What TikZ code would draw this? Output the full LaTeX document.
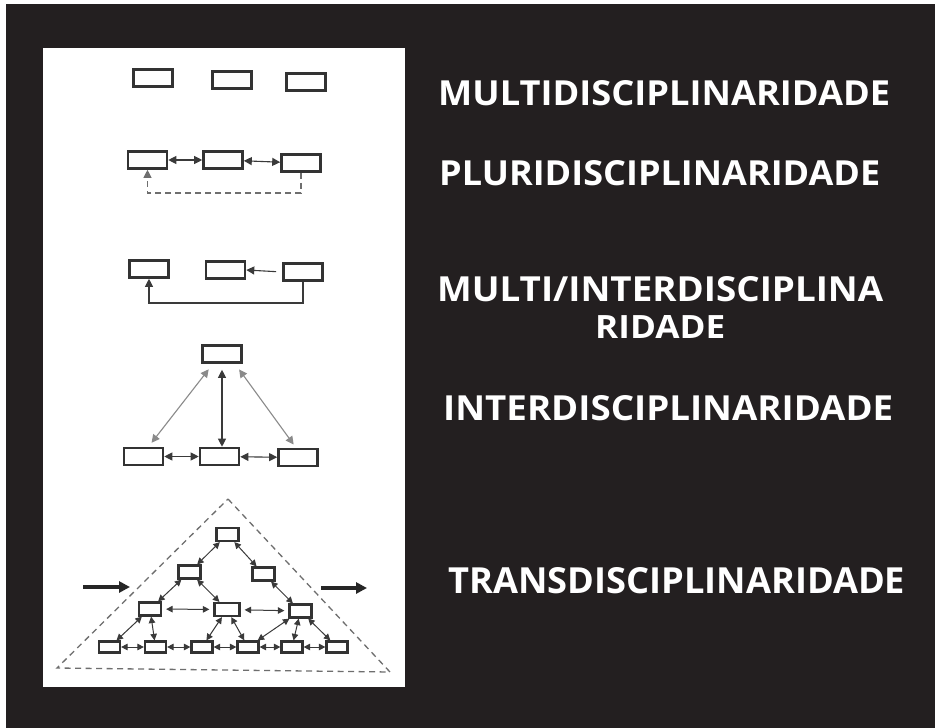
\documentclass[tikz,border=0pt]{standalone}
\usepackage{fontspec}
\setmainfont{Open Sans}
\usetikzlibrary{arrows.meta,calc}
\definecolor{bgdark}{HTML}{231F20}
\definecolor{boxc}{HTML}{333333}
\definecolor{linec}{HTML}{3A3A3A}
\definecolor{lightc}{HTML}{8A8A8A}
\definecolor{dashc}{HTML}{6E6E6E}
\tikzset{
  bigbox/.style={draw=boxc, line width=2.6pt, fill=white, minimum width=39pt, minimum height=17pt, inner sep=0pt},
  smbox/.style={draw=boxc, line width=2.2pt, fill=white, minimum width=22pt, minimum height=13pt, inner sep=0pt},
  tinybox/.style={draw=boxc, line width=2.2pt, fill=white, minimum width=21pt, minimum height=11pt, inner sep=0pt},
  dbl/.style={{Triangle[length=8pt,width=8pt]}-{Triangle[length=8pt,width=8pt]}, line width=1.1pt, draw=linec},
  sgl/.style={-{Triangle[length=8pt,width=8pt]}, line width=1.1pt, draw=linec},
  sdbl/.style={{Triangle[length=6.5pt,width=6.5pt]}-{Triangle[length=6.5pt,width=6.5pt]}, line width=1pt, draw=linec},
  lbl/.style={text=white, anchor=north west, inner sep=0pt, font=\bfseries},
  fat/.style={-{Triangle[length=11pt,width=11pt]}, line width=3.6pt, draw=black!85},
}
\begin{document}
\begin{tikzpicture}[x=1pt,y=-1pt]
\useasboundingbox (0,0) rectangle (935,728);
\fill[white] (0,0) rectangle (935,728);
\fill[bgdark] (6,4) rectangle (935,728);
\fill[white] (43,48) rectangle (405,687);

% Row 1
\node[bigbox] (r1a) at (153,78) {};
\node[bigbox] (r1b) at (232,80) {};
\node[bigbox] (r1c) at (306,82) {};

% Row 2
\node[bigbox] (r2a) at (147.5,160) {};
\node[bigbox] (r2b) at (223,160) {};
\node[bigbox] (r2c) at (301,163) {};
\draw[dbl] (r2a) -- (r2b);
\draw[dbl] (r2b) -- (r2c);
\coordinate (d2) at (147.5,193);
\draw[sgl, dash pattern=on 6pt off 4pt, draw=dashc] (r2c.south) -- (r2c.south |- d2) -- (d2) -- (r2a.south);

% Row 3
\node[bigbox] (r3a) at (149,269) {};
\node[bigbox] (r3b) at (225.5,270) {};
\node[bigbox] (r3c) at (303,272) {};
\draw[sgl, shorten <=6pt] (r3c.west) -- (r3b.east);
\coordinate (d3) at (149,303);
\draw[sgl] (r3c.south) -- (r3c.south |- d3) -- (d3) -- (r3a.south);

% Row 4
\node[bigbox] (r4t) at (222,354) {};
\node[bigbox] (r4l) at (143.5,456.5) {};
\node[bigbox] (r4m) at (219.5,456.5) {};
\node[bigbox] (r4r) at (298,457.5) {};
\draw[dbl, draw=lightc, shorten <=7pt, shorten >=5pt] ([xshift=-9pt]r4t.south) -- ([xshift=5pt]r4l.north);
\draw[dbl, shorten <=6pt] (r4t.south) -- (r4t.south |- r4m.north);
\draw[dbl, draw=lightc, shorten <=7pt, shorten >=4pt] ([xshift=13pt]r4t.south) -- ([xshift=-2pt]r4r.north);
\draw[dbl] (r4l) -- (r4m);
\draw[dbl] (r4m) -- (r4r);

% Row 5: transdisciplinarity
\coordinate (tA) at (228,499);
\coordinate (tL) at (57,668);
\coordinate (tR) at (390,672);
\draw[dashc, line width=1.3pt, dash pattern=on 6pt off 4.5pt] (tA) -- (tR) -- (tL) -- cycle;

\node[smbox] (t) at (227.5,534.5) {};
\node[smbox] (a) at (189.5,572) {};
\node[smbox] (b) at (263.5,574) {};
\node[smbox] (c) at (150,609) {};
\node[smbox, minimum width=25pt] (d) at (227,609.5) {};
\node[smbox] (e) at (300.5,611) {};
\node[tinybox] (f1) at (109.5,647) {};
\node[tinybox] (f2) at (155.5,647) {};
\node[tinybox] (f3) at (202,647) {};
\node[tinybox] (f4) at (248,647) {};
\node[tinybox] (f5) at (292,647) {};
\node[tinybox] (f6) at (337,647) {};

\draw[sdbl] (t) -- (a);
\draw[sdbl] (t) -- (b);
\draw[sdbl] (a) -- (c);
\draw[sdbl] (a) -- (d);
\draw[sdbl] (b) -- (e);
\draw[sdbl, shorten <=4pt, shorten >=4pt] (c) -- (d);
\draw[sdbl, shorten <=4pt, shorten >=4pt] (d) -- (e);
\draw[sdbl] (c) -- (f1);
\draw[sdbl] (c) -- (f2);
\draw[sdbl] (d) -- (f3);
\draw[sdbl] (d) -- (f4);
\draw[sdbl] (e) -- (f4);
\draw[sdbl] (e) -- (f5);
\draw[sdbl] (e) -- (f6);
\draw[sdbl] (f1) -- (f2);
\draw[sdbl] (f2) -- (f3);
\draw[sdbl] (f3) -- (f4);
\draw[sdbl] (f4) -- (f5);
\draw[sdbl] (f5) -- (f6);

\coordinate (inS) at (83,587);
\coordinate (inE) at (130,587);
\coordinate (outS) at (321,588);
\coordinate (outE) at (367,588);
\draw[fat] (inS) -- (inE);
\draw[fat] (outS) -- (outE);

% Labels
\node[lbl] (l1) at (438,80) {\resizebox{452pt}{25pt}{MULTIDISCIPLINARIDADE}};
\node[lbl] (l2) at (439,160) {\resizebox{441pt}{25pt}{PLURIDISCIPLINARIDADE}};
\node[lbl] (l3) at (437,276) {\resizebox{446pt}{25pt}{MULTI/INTERDISCIPLINA}};
\node[lbl] (l3b) at (595,315) {\resizebox{130pt}{23pt}{RIDADE}};
\node[lbl] (l4) at (443,395) {\resizebox{450pt}{25pt}{INTERDISCIPLINARIDADE}};
\node[lbl] (l5) at (448,567) {\resizebox{457pt}{26pt}{TRANSDISCIPLINARIDADE}};
\end{tikzpicture}
\end{document}
